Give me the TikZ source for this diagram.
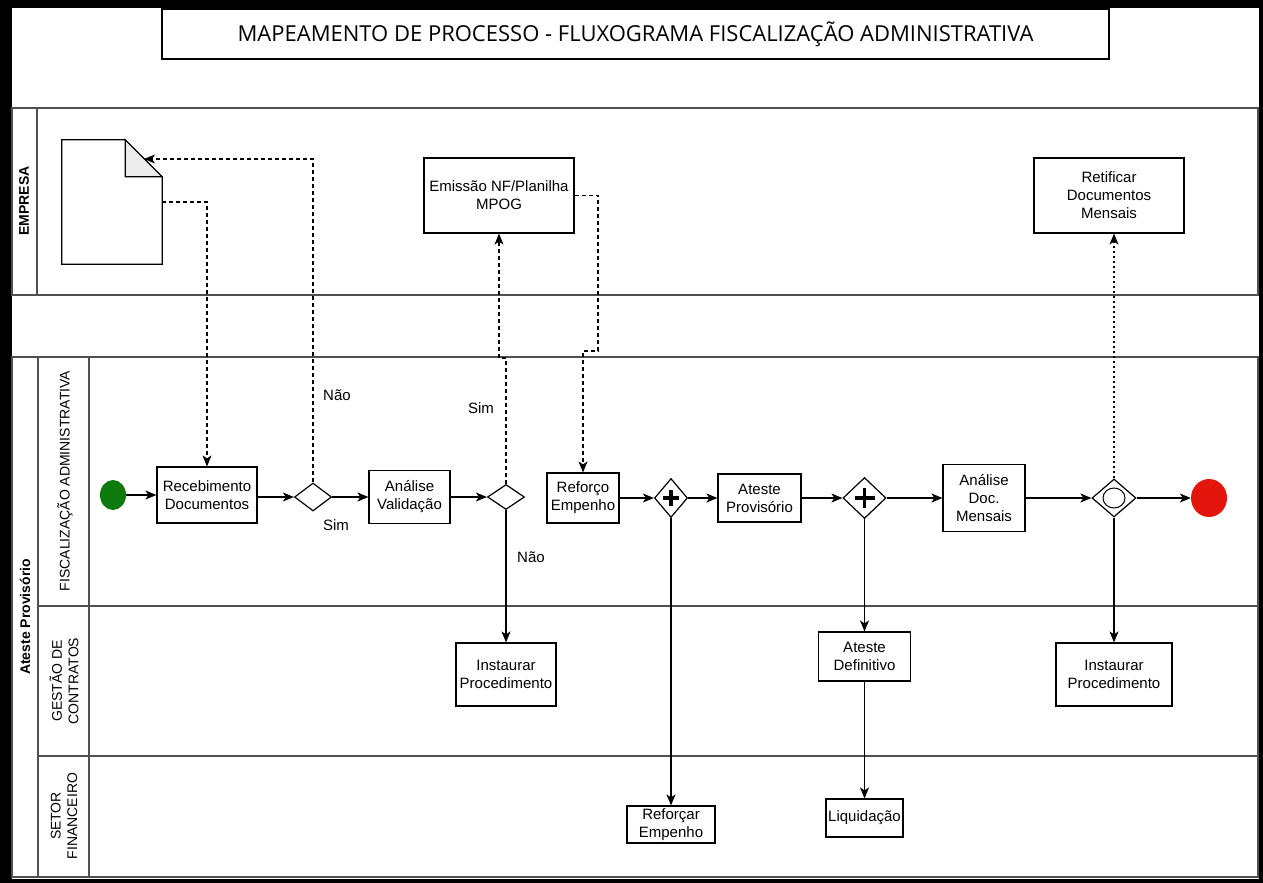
\documentclass[tikz,border=0pt]{standalone}
\usepackage{fontspec}
\setmainfont{Liberation Sans}
\newfontfamily\titlefont{Open Sans}
\usetikzlibrary{shapes.geometric,arrows.meta}
\definecolor{startgreen}{RGB}{14,122,14}
\definecolor{endred}{RGB}{226,22,12}
\definecolor{laneline}{RGB}{80,80,80}

\begin{document}
\begin{tikzpicture}[x = 1pt, y = -1pt,
	every node/.style = {font = \fontsize{15}{18}\selectfont, align = center, inner sep = 0pt},
	task/.style = {draw = black, line width = 1.2pt, fill = white},
	gate/.style = {draw = black, shape = diamond, line width = 1.2pt, fill = white},
	plusgate/.style = {gate, path picture = {
		\draw[line width = 3.5pt] ([xshift = -#1]path picture bounding box.center) -- ([xshift = #1]path picture bounding box.center);
		\draw[line width = 3.5pt] ([yshift = -#1]path picture bounding box.center) -- ([yshift = #1]path picture bounding box.center);}},
	orgate/.style = {gate, path picture = {
		\draw[line width = 1pt] (path picture bounding box.center) ellipse (11pt and 10pt);}},
	event/.style = {shape = ellipse, draw = none},
	flow/.style = {-{Stealth[length = 11pt, width = 9pt, inset = 3pt]}, line width = 1.2pt},
	msg/.style = {flow, dash pattern = on 4pt off 3pt},
	lane/.style = {draw = laneline, line width = 1.5pt},
	lanelabel/.style = {rotate = 90, font = \fontsize{14}{16.5}\selectfont},
	poollabel/.style = {rotate = 90, font = \bfseries\fontsize{14}{16}\selectfont}]

	% frame
	\fill[black] (0,0) rectangle (1263,883);
	\fill[white] (12,8) rectangle (1259,879);

	\node[task, minimum width = 947pt, minimum height = 50pt] (title) at (635.5,34) {\titlefont\fontsize{22}{24}\selectfont MAPEAMENTO DE PROCESSO - FLUXOGRAMA FISCALIZAÇÃO ADMINISTRATIVA};

	% pools and lanes
	\draw[lane] (12,108) rectangle (1258,295);
	\draw[lane] (37,108) -- (37,295);
	\node[poollabel] (empresa) at (24,201) {EMPRESA};

	\draw[lane] (12,357) rectangle (1258,877);
	\draw[lane] (38,357) -- (38,877);
	\draw[lane] (89,357) -- (89,877);
	\draw[lane] (38,606) -- (1258,606);
	\draw[lane] (38,756) -- (1258,756);
	\node[poollabel] (ateste) at (25,617) {Ateste Provisório};
	\node[lanelabel] (fiscal) at (65,481) {FISCALIZAÇÃO ADMINISTRATIVA};
	\node[lanelabel] (gestao) at (64,681) {GESTÃO DE\\CONTRATOS};
	\node[lanelabel] (setor) at (64,816) {SETOR\\FINANCEIRO};

	% empresa
	\node[minimum width = 100pt, minimum height = 124pt] (doc) at (112,202) {};
	\draw[line width = 1.2pt, fill = white] (doc.north west) -- ([xshift = -37pt]doc.north east) -- ([yshift = -37pt]doc.north east) -- (doc.south east) -- (doc.south west) -- cycle;
	\filldraw[line width = 1.2pt, fill = gray!15] ([xshift = -37pt]doc.north east) -- ([xshift = -37pt, yshift = -37pt]doc.north east) -- ([yshift = -37pt]doc.north east) -- cycle;
	\coordinate (docfold) at (144,159);
	\node[task, minimum width = 150pt, minimum height = 75pt] (emis) at (499,195.5) {Emissão NF/Planilha\\MPOG};
	\node[task, minimum width = 150pt, minimum height = 75pt] (retif) at (1109,195.5) {Retificar\\Documentos\\Mensais};

	% fiscalizacao administrativa
	\node[event, fill = startgreen, minimum width = 26pt, minimum height = 30pt] (start) at (113,495) {};
	\node[task, minimum width = 100pt, minimum height = 56pt] (rec) at (207,495) {Recebimento\\Documentos};
	\node[gate, minimum width = 37pt, minimum height = 28pt] (d1) at (313,497) {};
	\node[task, minimum width = 81pt, minimum height = 53pt] (anval) at (409.5,497) {Análise\\Validação};
	\node[gate, minimum width = 37pt, minimum height = 25pt] (d2) at (506,497) {};
	\node[task, minimum width = 72pt, minimum height = 50pt] (ref) at (583,498) {Reforço\\Empenho};
	\node[plusgate = 8pt, minimum width = 33pt, minimum height = 39pt] (p1) at (671,498) {};
	\node[task, minimum width = 83pt, minimum height = 48pt] (atp) at (759.5,498) {Ateste\\Provisório};
	\node[plusgate = 10pt, minimum width = 43pt, minimum height = 41pt] (p2) at (864.5,498) {};
	\node[task, minimum width = 82pt, minimum height = 67pt] (adm) at (984,498) {Análise\\Doc.\\Mensais};
	\node[orgate, minimum width = 44pt, minimum height = 38pt] (og) at (1114,498) {};
	\node[event, fill = endred, minimum width = 36pt, minimum height = 38pt] (stop) at (1209,498) {};

	% gestao de contratos
	\node[task, minimum width = 100pt, minimum height = 63pt] (inst1) at (506,674.5) {Instaurar\\Procedimento};
	\node[task, minimum width = 92pt, minimum height = 49pt] (atd) at (864.5,656.5) {Ateste\\Definitivo};
	\node[task, minimum width = 116pt, minimum height = 63pt] (inst2) at (1114,674.5) {Instaurar\\Procedimento};

	% setor financeiro
	\node[task, minimum width = 88pt, minimum height = 37pt] (refe) at (671,824.5) {Reforçar\\Empenho};
	\node[task, minimum width = 77pt, minimum height = 38pt] (liq) at (864.5,818) {Liquidação};

	% labels
	\node (nao1) at (337,395) {Não};
	\node (sim1) at (336,525) {Sim};
	\node (sim2) at (481,408) {Sim};
	\node (nao2) at (531,557) {Não};

	% sequence flows
	\draw[flow] (start) -- (rec);
	\draw[flow] (rec.east |- d1) -- (d1);
	\draw[flow] (d1) -- (anval);
	\draw[flow] (anval) -- (d2);
	\draw[flow] (d2.south) -- (inst1.north);
	\draw[flow] (ref) -- (p1);
	\draw[flow] (p1) -- (atp);
	\draw[flow] (p1.south) -- (refe.north);
	\draw[flow] (atp) -- (p2);
	\draw[flow] (p2) -- (adm);
	\draw[flow] (p2.south) -- (atd.north);
	\draw[flow] (atd) -- (liq);
	\draw[flow] (adm) -- (og);
	\draw[flow] (og) -- (stop);
	\draw[flow] (og.south) -- (inst2.north);

	% message flows
	\coordinate (jog1) at (499,358);
	\coordinate (jog2) at (598,351);
	\draw[msg] (doc.east) -| (rec.north);
	\draw[msg] (d1.north) |- (docfold);
	\draw[msg] (d2.north) |- (jog1) -- (emis.south);
	\draw[msg] (emis.east) -| (jog2) -| (ref.north);
	\draw[msg, dash pattern = on 2.5pt off 2.5pt] (og.north) -- (og.north |- retif.south);
\end{tikzpicture}
\end{document}
